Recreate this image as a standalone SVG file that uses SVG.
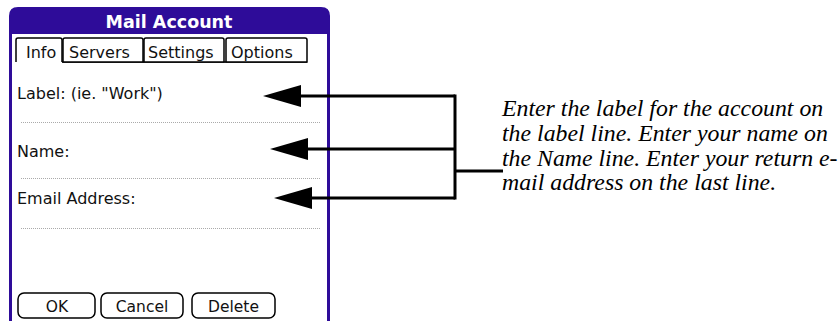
<svg xmlns="http://www.w3.org/2000/svg" width="839" height="321" viewBox="0 0 839 321">
<defs>
<style>
.palm{font-family:"DejaVu Sans","Liberation Sans",sans-serif;fill:#111;}
.lbl{font-size:16px;}
.tab{font-size:16px;}
.btn{font-size:15.5px;text-anchor:middle;}
.dot{stroke:#aaa;stroke-width:1;stroke-dasharray:1 1;}
.tabshape{fill:#fff;stroke:#000;stroke-width:1.5;}
.button{fill:#fff;stroke:#000;stroke-width:1.5;}
.conn{stroke:#000;stroke-width:3;fill:none;}
.note{font-family:"Liberation Serif","Times New Roman",serif;font-style:italic;font-size:23.8px;fill:#000;}
</style>
<marker id="arr" viewBox="0 0 38 22" refX="0" refY="11" markerWidth="38" markerHeight="22" markerUnits="userSpaceOnUse" orient="auto">
<path d="M0,0 L38,11 L0,22 Z" fill="#000"/>
</marker>
</defs>
<rect width="839" height="321" fill="#fff"/>
<g id="screen">
<path d="M9,321 L9,16 Q9,7 18,7 L321,7 Q330,7 330,16 L330,321 Z" fill="#2e0c99"/>
<rect x="12" y="34" width="315" height="290" fill="#fff"/>
<text x="169" y="28" font-family="DejaVu Sans, Liberation Sans, sans-serif" font-weight="bold" font-size="17.5" fill="#fff" text-anchor="middle">Mail Account</text>
</g>
<g id="tabs">
<line x1="62" y1="62" x2="307" y2="62" stroke="#000" stroke-width="1.5"/>
<path d="M16,62 L16,40 Q16,38 18,38 L60,38 Q62,38 62,40 L62,62" class="tabshape" fill="none"/>
<path d="M63,62 L63,40 Q63,38 65,38 L141,38 Q143,38 143,40 L143,62 Z" class="tabshape"/>
<path d="M144,62 L144,40 Q144,38 146,38 L222,38 Q224,38 224,40 L224,62 Z" class="tabshape"/>
<path d="M226,62 L226,40 Q226,38 228,38 L305,38 Q307,38 307,40 L307,62 Z" class="tabshape"/>
<text class="palm tab" x="26" y="58">Info</text>
<text class="palm tab" x="69" y="58">Servers</text>
<text class="palm tab" x="148" y="58">Settings</text>
<text class="palm tab" x="231" y="58">Options</text>
</g>
<g id="field-label">
<text class="palm lbl" x="17" y="99">Label: (ie. "Work")</text>
<line class="dot" x1="21" y1="122.5" x2="320" y2="122.5"/>
</g>
<g id="field-name">
<text class="palm lbl" x="17" y="157">Name:</text>
<line class="dot" x1="21" y1="178.5" x2="320" y2="178.5"/>
</g>
<g id="field-email">
<text class="palm lbl" x="17" y="204">Email Address:</text>
<line class="dot" x1="21" y1="228.5" x2="320" y2="228.5"/>
</g>
<g id="btn-ok">
<rect class="button" x="18" y="293" width="77" height="25" rx="6"/>
<text class="palm btn" x="57" y="312">OK</text>
</g>
<g id="btn-cancel">
<rect class="button" x="101" y="293" width="82" height="25" rx="6"/>
<text class="palm btn" x="142" y="312">Cancel</text>
</g>
<g id="btn-delete">
<rect class="button" x="192" y="293" width="83" height="25" rx="6"/>
<text class="palm btn" x="233.5" y="312">Delete</text>
</g>
<g id="connectors">
<path class="conn" d="M455,96 L301,96" marker-end="url(#arr)"/>
<path class="conn" d="M455,149 L308,149" marker-end="url(#arr)"/>
<path class="conn" d="M455,198 L312,198" marker-end="url(#arr)"/>
<line class="conn" x1="455" y1="94.5" x2="455" y2="199.5"/>
<line class="conn" x1="455" y1="171" x2="503" y2="171"/>
</g>
<g id="note">
<text class="note" x="502" y="116">Enter the label for the account on</text>
<text class="note" x="502" y="141">the label line. Enter your name on</text>
<text class="note" x="502" y="166">the Name line. Enter your return e-</text>
<text class="note" x="502" y="190">mail address on the last line.</text>
</g>
</svg>
